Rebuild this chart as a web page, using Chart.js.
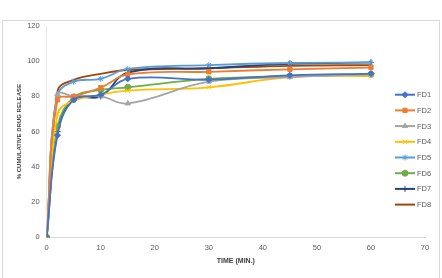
<!DOCTYPE html>
<html>
<head>
<meta charset="utf-8">
<script src="https://cdn.jsdelivr.net/npm/chart.js@4.4.1/dist/chart.umd.min.js"></script>
<style>
  html, body { margin: 0; padding: 0; background: #fff; }
  #wrap { position: relative; width: 442px; height: 278px; }
</style>
</head>
<body>
<div id="wrap"><canvas id="drugChart" width="442" height="278"></canvas></div>
<script>
// time points (min.)
const times = [0, 2, 5, 10, 15, 30, 45, 60];

// % cumulative drug release
const fd1 = [0, 58, 78, 81, 90, 89.5, 92, 93];
const fd2 = [0, 78, 80, 85, 92.5, 94, 95.4, 96.4];
const fd3 = [0, 81, 80, 80, 76, 88.4, 91, 92.5];
const fd4 = [0, 70, 77.5, 81, 83.3, 85.2, 91, 91.6];
const fd5 = [0, 80.5, 88.4, 90, 95.6, 97.8, 99, 99.2];
const fd6 = [0, 63, 79.5, 83.7, 85.2, 90, 91.6, 92.6];
const fd7 = [0, 60, 78.5, 80, 93.5, 96, 98.5, 99.3];
const fd8 = [0, 83, 89.4, 92.8, 95, 96, 97.4, 97.8];

const seriesNames = ["FD1", "FD2", "FD3", "FD4", "FD5", "FD6", "FD7", "FD8"];
const seriesData = [fd1, fd2, fd3, fd4, fd5, fd6, fd7, fd8];
const colors = ["#4472C4", "#ED7D31", "#A5A5A5", "#FFC000", "#5B9BD5", "#70AD47", "#264478", "#9E480E"];
const markers = ["rectRot", "rect", "triangle", "crossRot", "star", "circle", "cross", false];

const xTicks = { min: 0, max: 70, step: 10 };
const yTicks = { min: 0, max: 120, step: 20 };

const datasets = seriesNames.map((name, i) => ({
  label: name,
  data: times.map((t, j) => ({ x: t, y: seriesData[i][j] })),
  borderColor: colors[i],
  backgroundColor: colors[i],
  borderWidth: 1.8,
  pointStyle: markers[i],
  pointRadius: markers[i] ? 3 : 0,
  pointBorderWidth: 1,
  tension: 0.4,
  fill: false
}));

// frame round the whole chart
const framePlugin = {
  id: "frame",
  beforeDraw(chart) {
    const ctx = chart.ctx;
    ctx.save();
    ctx.fillStyle = "#fff";
    ctx.fillRect(0, 0, chart.width, chart.height);
    ctx.strokeStyle = "#d9d9d9";
    ctx.lineWidth = 1;
    ctx.strokeRect(2.5, 20.5, 437, 262);
    ctx.restore();
  }
};

// legend drawn on the right, over the plot area like the original
const sideLegend = {
  id: "sideLegend",
  afterDraw(chart) {
    const ctx = chart.ctx;
    ctx.save();
    chart.data.datasets.forEach((ds, i) => {
      const y = 94.7 + i * 15.7;
      ctx.strokeStyle = ds.borderColor;
      ctx.lineWidth = 2;
      ctx.beginPath();
      ctx.moveTo(395, y);
      ctx.lineTo(415, y);
      ctx.stroke();
      if (ds.pointStyle) {
        ctx.fillStyle = ds.backgroundColor;
        ctx.strokeStyle = ds.borderColor;
        ctx.lineWidth = 1;
        Chart.helpers.drawPoint(ctx, { pointStyle: ds.pointStyle, radius: 3, rotation: 0, borderWidth: 1 }, 405, y);
      }
      ctx.fillStyle = "#595959";
      ctx.font = "7.5px 'Liberation Sans', Arial, sans-serif";
      ctx.textBaseline = "middle";
      ctx.textAlign = "left";
      ctx.fillText(ds.label, 417, y + 0.5);
    });
    ctx.restore();
  }
};

new Chart(document.getElementById("drugChart"), {
  type: "line",
  data: { datasets },
  options: {
    responsive: false,
    animation: false,
    layout: { padding: { left: 2, right: 17, top: 26, bottom: 0 } },
    plugins: {
      legend: { display: false },
      tooltip: { enabled: false }
    },
    scales: {
      x: {
        type: "linear",
        min: xTicks.min,
        max: xTicks.max,
        grid: { display: false, drawTicks: false },
        border: { display: true, color: "#d9d9d9", width: 1 },
        ticks: {
          stepSize: xTicks.step,
          color: "#595959",
          padding: 6,
          maxRotation: 0,
          font: { family: "'Liberation Sans', Arial, sans-serif", size: 7.5 }
        },
        title: {
          display: true,
          text: "TIME (MIN.)",
          color: "#404040",
          padding: { top: 0, bottom: 13 },
          font: { family: "'Liberation Sans', Arial, sans-serif", size: 7, weight: "bold" }
        },
        afterFit(scale) { scale.height = 278 - 237.3; }
      },
      y: {
        min: yTicks.min,
        max: yTicks.max,
        grid: { display: false, drawTicks: false },
        border: { display: true, color: "#e6e6e6", width: 1 },
        ticks: {
          stepSize: yTicks.step,
          color: "#595959",
          padding: 7,
          font: { family: "'Liberation Sans', Arial, sans-serif", size: 7.5 }
        },
        title: {
          display: true,
          text: "% CUMULATIVE DRUG RELEASE",
          color: "#404040",
          padding: { top: 14, bottom: 0 },
          font: { family: "'Liberation Sans Narrow', 'Liberation Sans', Arial, sans-serif", size: 6, weight: "bold" }
        },
        afterFit(scale) { scale.width = 46.7 - 2; }
      }
    }
  },
  plugins: [framePlugin, sideLegend]
});
</script>
</body>
</html>
